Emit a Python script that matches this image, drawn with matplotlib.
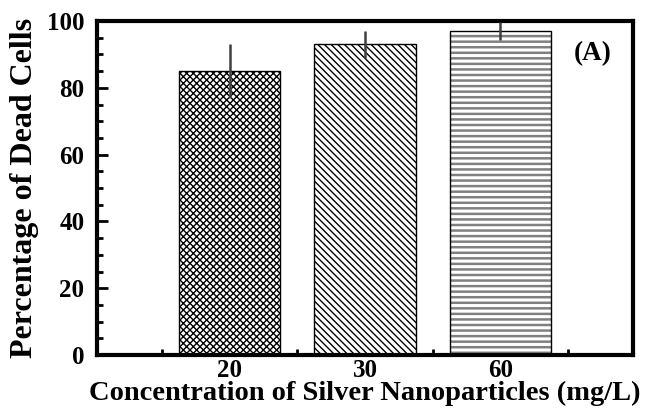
import matplotlib
matplotlib.use("Agg")
import matplotlib.pyplot as plt
from matplotlib.ticker import MultipleLocator, FixedLocator

categories = ["20", "30", "60"]
dead_pct = [85, 93, 97]
dead_err = [8, 4, 2.8]
hatches = ["xxxxx", "\\\\\\\\\\", "---"]
hatch_colors = ["black", "black", "#808080"]
hatch_widths = [1.0, 1.0, 1.8]

plt.rcParams["font.family"] = ["Liberation Serif", "DejaVu Serif"]
plt.rcParams["font.weight"] = "bold"

fig = plt.figure(figsize=(6.52, 4.12), dpi=100)
ax = fig.add_axes([97 / 652, 1 - 355 / 412, (633 - 97) / 652, (355 - 21) / 412])

x = [1, 2, 3]
width = 0.75
for xi, v, h, hc, hw in zip(x, dead_pct, hatches, hatch_colors, hatch_widths):
    with plt.rc_context({"hatch.linewidth": hw}):
        ax.bar(xi, v, width, color="white", edgecolor=hc, hatch=h, linewidth=0, zorder=2)
    ax.bar(xi, v, width, fill=False, edgecolor="black", linewidth=1.0, zorder=3)
ax.errorbar(x, dead_pct, yerr=dead_err, fmt="none", ecolor="#404040",
            elinewidth=1.8, capsize=0, zorder=4)

ax.set_xlim(0.02, 3.98)
ax.set_ylim(0, 100)
ax.set_xticks(x)
ax.set_xticklabels(categories, fontsize=18, fontweight="bold")
ax.xaxis.set_minor_locator(FixedLocator([0.5, 1.5, 2.5, 3.5]))
ax.yaxis.set_major_locator(MultipleLocator(20))
ax.yaxis.set_minor_locator(MultipleLocator(5))
for lab in ax.get_yticklabels():
    lab.set_fontsize(18)
    lab.set_fontweight("bold")

ax.tick_params(axis="both", which="major", direction="in", length=8, width=2)
ax.tick_params(axis="y", which="major", pad=9)
ax.tick_params(axis="x", which="major", length=0, pad=3)
ax.tick_params(axis="both", which="minor", direction="in", length=4, width=2)
ax.tick_params(top=False, right=False, which="both")

for s in ax.spines.values():
    s.set_linewidth(3)

ax.set_xlabel("Concentration of Silver Nanoparticles (mg/L)", fontsize=20.5,
              fontweight="bold", va="baseline")
ax.xaxis.set_label_coords(0.5, -45 / 334)
ax.set_ylabel("Percentage of Dead Cells", fontsize=23, fontweight="bold", labelpad=6)
ax.text(3.68, 90.1, "(A)", fontsize=19.5, fontweight="bold", ha="center", va="center")

fig.savefig("out.png", dpi=100)
